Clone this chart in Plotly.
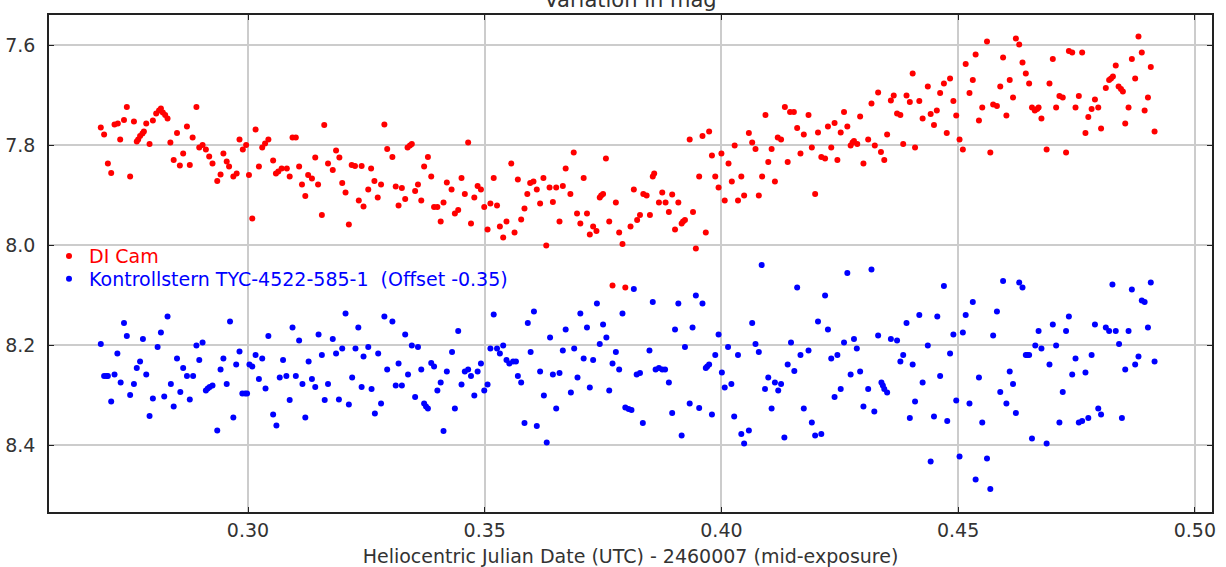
import plotly.graph_objects as go

# DI Cam (red)
di_hjd = [
    0.2689,0.2696,0.2704,0.2711,0.2718,0.2725,0.2730,0.2738,0.2744,0.2751,
    0.2759,0.2765,0.2768,0.2772,0.2777,0.2780,0.2785,0.2792,0.2799,0.2806,
    0.2812,0.2816,0.2820,0.2825,0.2830,0.2836,0.2843,0.2850,0.2856,0.2863,
    0.2871,0.2877,0.2883,0.2891,0.2897,0.2904,0.2911,0.2918,0.2925,0.2935,
    0.2942,0.2948,0.2955,0.2960,0.2969,0.2976,0.2982,0.2989,0.2996,0.3002,
    0.3009,0.3016,0.3023,0.3030,0.3036,0.3043,0.3053,0.3059,0.3064,0.3071,
    0.3082,0.3088,0.3094,0.3101,0.3108,0.3114,0.3121,0.3127,0.3135,0.3142,
    0.3148,0.3156,0.3161,0.3169,0.3179,0.3186,0.3193,0.3199,0.3206,0.3213,
    0.3219,0.3226,0.3234,0.3240,0.3244,
    0.3254,0.3260,0.3267,0.3274,0.3281,0.3288,0.3294,0.3305,0.3312,0.3318,
    0.3325,0.3332,0.3337,0.3342,0.3346,0.3353,0.3359,0.3366,0.3372,0.3380,
    0.3387,0.3393,0.3400,0.3407,0.3413,0.3420,0.3430,0.3437,0.3444,0.3451,
    0.3458,0.3465,0.3471,0.3478,0.3485,0.3492,0.3499,0.3506,0.3512,0.3519,
    0.3526,0.3532,0.3539,0.3546,0.3556,0.3563,0.3570,0.3577,0.3584,0.3590,
    0.3596,0.3603,0.3610,0.3617,0.3624,0.3630,0.3637,0.3644,0.3651,0.3658,
    0.3665,0.3671,0.3681,0.3688,0.3695,0.3702,0.3709,0.3716,0.3722,0.3729,
    0.3736,0.3743,0.3746,0.3750,0.3756,0.3763,0.3770,0.3777,0.3784,0.3791,0.3797,
    0.3808,0.3815,0.3822,0.3828,0.3835,0.3842,0.3849,0.3855,0.3858,
    0.3868,0.3875,0.3882,0.3889,0.3896,0.3902,0.3909,0.3916,0.3919,0.3923,
    0.3933,0.3940,0.3946,0.3953,0.3960,0.3967,0.3974,0.3980,0.3987,0.3994,
    0.4000,0.4007,0.4015,0.4022,0.4028,0.4035,0.4042,0.4048,0.4058,0.4065,
    0.4072,0.4079,0.4086,0.4093,0.4099,0.4106,0.4113,0.4119,0.4126,0.4134,
    0.4140,0.4145,0.4153,0.4160,0.4167,0.4174,0.4184,0.4191,0.4198,0.4204,
    0.4211,0.4219,0.4225,0.4232,0.4239,0.4245,0.4252,0.4259,0.4266,0.4273,
    0.4277,0.4280,0.4287,0.4293,0.4300,0.4310,0.4317,0.4324,0.4331,0.4337,
    0.4344,0.4350,0.4358,0.4364,0.4371,0.4378,0.4384,0.4391,0.4398,0.4404,
    0.4409,
    0.4418,0.4425,0.4436,0.4442,0.4449,0.4455,0.4462,0.4470,0.4476,0.4483,
    0.4490,0.4496,0.4503,0.4510,0.4516,0.4524,0.4531,0.4537,0.4544,0.4551,
    0.4561,0.4568,0.4574,0.4582,0.4589,0.4595,0.4602,0.4609,0.4616,0.4622,
    0.4629,0.4636,0.4643,0.4650,0.4656,0.4662,0.4667,0.4670,0.4676,0.4687,
    0.4693,0.4700,0.4707,0.4714,0.4721,0.4728,0.4734,0.4741,0.4748,0.4755,
    0.4762,0.4769,0.4775,0.4782,0.4789,0.4796,0.4802,0.4812,0.4819,0.4823,
    0.4827,0.4833,0.4839,0.4844,0.4848,0.4853,0.4860,0.4867,0.4874,0.4881,
    0.4888,0.4894,0.4901,0.4907,0.4915,
]
di_mag = [
    7.765,7.779,7.837,7.856,7.759,7.757,7.789,7.750,7.724,7.863,
    7.753,7.793,7.789,7.782,7.777,7.773,7.757,7.798,7.751,7.737,
    7.731,7.727,7.735,7.740,7.747,7.795,7.830,7.776,7.841,7.817,
    7.763,7.840,7.785,7.724,7.805,7.800,7.809,7.823,7.837,7.872,
    7.859,7.817,7.833,7.843,7.863,7.857,7.789,7.809,7.800,7.860,
    7.947,7.769,7.843,7.805,7.797,7.789,7.831,7.857,7.853,7.847,
    7.847,7.863,7.785,7.785,7.843,7.879,7.902,7.860,7.867,7.825,
    7.879,7.940,7.760,7.837,7.850,7.811,7.825,7.876,7.895,7.959,
    7.840,7.842,7.911,7.842,7.923,
    7.889,7.847,7.872,7.905,7.879,7.759,7.808,7.824,7.883,7.921,
    7.886,7.908,7.805,7.801,7.798,7.892,7.879,7.911,7.843,7.824,
    7.863,7.924,7.924,7.953,7.915,7.875,7.889,7.937,7.930,7.866,
    7.898,7.795,7.957,7.905,7.882,7.889,7.924,7.969,7.917,7.866,
    7.921,7.963,7.985,7.953,7.837,7.975,7.869,7.949,7.927,7.898,
    7.876,7.873,7.889,7.917,7.866,8.001,7.885,7.914,7.885,7.953,
    7.882,7.847,7.898,7.815,7.937,7.957,7.866,7.937,7.979,7.963,
    7.972,7.905,7.901,7.898,7.827,7.953,8.081,7.915,7.975,7.998,8.085,
    7.963,7.889,7.950,7.940,7.898,7.901,7.940,7.863,7.857,
    7.915,7.895,7.915,7.934,7.899,7.969,7.915,7.957,7.953,7.950,
    7.789,7.934,8.007,7.863,7.782,7.975,7.773,7.821,7.863,7.885,
    7.817,7.911,7.837,7.873,7.801,7.911,7.863,7.901,7.776,7.795,
    7.808,7.901,7.863,7.740,7.834,7.808,7.873,7.785,7.789,7.724,
    7.834,7.734,7.734,7.766,7.817,7.779,7.740,7.805,7.898,7.775,
    7.824,7.827,7.763,7.805,7.756,7.830,7.775,7.734,7.763,7.801,
    7.795,7.792,7.798,7.743,7.837,7.789,7.717,7.801,7.695,7.814,
    7.830,7.779,7.711,7.701,7.737,7.740,7.798,7.701,7.714,7.657,
    7.805,
    7.712,7.747,7.683,7.738,7.760,7.731,7.696,7.677,7.776,7.667,
    7.712,7.741,7.789,7.809,7.638,7.696,7.670,7.619,7.751,7.725,
    7.593,7.815,7.719,7.722,7.683,7.625,7.741,7.670,7.705,7.587,
    7.599,7.635,7.657,7.677,7.725,7.731,7.728,7.725,7.747,7.809,
    7.677,7.628,7.725,7.702,7.705,7.815,7.612,7.615,7.725,7.702,
    7.615,7.776,7.744,7.728,7.709,7.725,7.767,7.686,7.670,7.667,
    7.663,7.641,7.683,7.688,7.693,7.757,7.725,7.628,7.667,7.583,
    7.615,7.731,7.705,7.644,7.773,
]

# Check star TYC-4522-585-1 (blue), plotted with offset -0.35
chk_hjd = [
    0.2689,0.2696,0.2701,0.2704,0.2711,0.2718,0.2724,0.2731,0.2738,0.2744,
    0.2751,0.2759,0.2765,0.2772,0.2778,0.2785,0.2792,0.2799,0.2809,0.2816,
    0.2823,0.2830,0.2837,0.2843,0.2850,0.2857,0.2863,0.2871,0.2877,0.2884,
    0.2891,0.2897,0.2904,0.2911,0.2915,0.2919,0.2925,0.2935,0.2942,0.2948,
    0.2955,0.2962,0.2969,0.2975,0.2982,0.2988,0.2994,0.2998,0.3003,0.3009,
    0.3016,0.3023,0.3030,0.3037,0.3043,0.3053,0.3060,0.3067,0.3074,0.3081,
    0.3088,0.3094,0.3101,0.3108,0.3115,0.3121,0.3128,0.3135,0.3142,0.3149,
    0.3156,0.3162,0.3169,0.3179,0.3186,0.3192,0.3199,0.3206,0.3213,0.3220,
    0.3227,0.3233,0.3240,0.3244,
    0.3254,0.3261,0.3268,0.3275,0.3281,0.3288,0.3294,0.3305,0.3312,0.3318,
    0.3325,0.3332,0.3338,0.3346,0.3353,0.3359,0.3366,0.3372,0.3376,0.3380,
    0.3387,0.3393,0.3400,0.3407,0.3413,0.3420,0.3431,0.3437,0.3444,0.3451,
    0.3458,0.3465,0.3471,0.3478,0.3485,0.3492,0.3499,0.3506,0.3512,0.3519,
    0.3526,0.3532,0.3539,0.3546,0.3552,0.3560,0.3566,0.3570,0.3577,0.3584,
    0.3591,0.3597,0.3604,0.3610,0.3617,0.3625,0.3631,0.3638,0.3644,0.3651,
    0.3658,0.3665,0.3671,0.3682,0.3689,0.3696,0.3702,0.3709,0.3716,0.3722,
    0.3729,0.3737,0.3743,0.3750,0.3757,0.3763,0.3770,0.3777,0.3784,0.3791,
    0.3797,0.3804,0.3810,0.3815,0.3821,0.3828,0.3834,
    0.3848,0.3855,0.3861,0.3868,0.3875,0.3881,0.3889,0.3896,0.3902,0.3909,
    0.3916,0.3923,0.3933,0.3939,0.3946,0.3953,0.3960,0.3967,0.3970,0.3974,
    0.3980,0.3987,0.3994,0.4001,0.4007,0.4014,0.4021,0.4027,0.4035,0.4042,
    0.4048,0.4058,0.4065,0.4072,0.4079,0.4085,0.4092,0.4099,0.4106,0.4113,
    0.4120,0.4126,0.4133,0.4140,0.4147,0.4154,0.4160,0.4167,0.4174,0.4184,
    0.4191,0.4198,0.4204,0.4211,0.4219,0.4225,0.4232,0.4239,0.4245,0.4252,
    0.4259,0.4266,0.4273,0.4280,0.4286,0.4293,0.4300,0.4310,0.4317,0.4323,
    0.4331,0.4338,0.4341,0.4344,0.4350,0.4358,0.4371,0.4378,0.4384,0.4391,
    0.4398,0.4404,0.4409,
    0.4418,0.4425,0.4436,0.4442,0.4449,0.4456,0.4462,0.4470,0.4477,0.4483,
    0.4490,0.4496,0.4503,0.4510,0.4516,0.4524,0.4531,0.4537,0.4544,0.4551,
    0.4561,0.4568,0.4574,0.4582,0.4589,0.4595,0.4602,0.4609,0.4616,0.4622,
    0.4629,0.4636,0.4643,0.4646,0.4650,0.4656,0.4663,0.4670,0.4676,0.4687,
    0.4693,0.4700,0.4707,0.4714,0.4721,0.4728,0.4734,0.4741,0.4748,0.4755,
    0.4762,0.4769,0.4775,0.4782,0.4789,0.4796,0.4802,0.4812,0.4819,0.4826,
    0.4833,0.4840,0.4846,0.4853,0.4860,0.4867,0.4874,0.4881,0.4888,0.4894,
    0.4901,0.4907,0.4915,
]
chk_mag = [
    8.198,8.262,8.262,8.262,8.313,8.259,8.217,8.275,8.156,8.182,
    8.300,8.278,8.246,8.233,8.188,8.259,8.342,8.307,8.204,8.175,
    8.303,8.143,8.278,8.323,8.227,8.294,8.246,8.262,8.309,8.262,
    8.201,8.230,8.195,8.291,8.287,8.284,8.281,8.371,8.249,8.227,
    8.278,8.153,8.345,8.239,8.213,8.297,8.297,8.297,8.239,8.243,
    8.220,8.268,8.227,8.287,8.182,8.339,8.361,8.265,8.230,8.262,
    8.310,8.165,8.262,8.191,8.278,8.345,8.233,8.268,8.284,8.179,
    8.220,8.310,8.278,8.188,8.217,8.309,8.207,8.137,8.319,8.265,
    8.207,8.165,8.284,8.223,
    8.204,8.288,8.337,8.217,8.317,8.143,8.249,8.153,8.281,8.237,
    8.281,8.179,8.259,8.201,8.304,8.204,8.249,8.317,8.323,8.327,
    8.236,8.243,8.291,8.275,8.372,8.253,8.214,8.327,8.172,8.279,
    8.253,8.249,8.262,8.301,8.253,8.237,8.291,8.279,8.207,8.139,
    8.207,8.217,8.201,8.230,8.237,8.233,8.233,8.262,8.275,8.356,
    8.156,8.214,8.133,8.362,8.253,8.301,8.395,8.185,8.259,8.327,
    8.256,8.211,8.169,8.295,8.207,8.265,8.137,8.227,8.165,8.285,
    8.230,8.117,8.198,8.159,8.185,8.291,8.237,8.214,8.249,8.137,
    8.325,8.328,8.330,8.088,8.259,8.256,8.356,
    8.211,8.114,8.249,8.246,8.249,8.249,8.275,8.336,8.169,8.117,
    8.381,8.204,8.317,8.165,8.101,8.326,8.117,8.246,8.243,8.239,
    8.339,8.220,8.179,8.255,8.285,8.204,8.278,8.343,8.220,8.378,
    8.397,8.371,8.156,8.198,8.214,8.040,8.288,8.265,8.327,8.275,
    8.291,8.278,8.385,8.239,8.195,8.252,8.085,8.220,8.327,8.211,
    8.355,8.381,8.153,8.378,8.101,8.169,8.227,8.304,8.220,8.288,
    8.195,8.056,8.259,8.188,8.207,8.253,8.323,8.288,8.049,8.333,
    8.181,8.275,8.281,8.288,8.295,8.188,8.191,8.233,8.220,8.156,
    8.346,8.239,8.313,
    8.140,8.275,8.201,8.433,8.343,8.143,8.262,8.082,8.352,8.217,
    8.179,8.311,8.423,8.175,8.140,8.317,8.114,8.469,8.265,8.355,
    8.427,8.488,8.181,8.133,8.294,8.072,8.317,8.253,8.278,8.336,
    8.075,8.085,8.220,8.220,8.220,8.387,8.201,8.172,8.207,8.397,
    8.239,8.159,8.201,8.355,8.294,8.172,8.143,8.259,8.227,8.355,
    8.352,8.255,8.346,8.220,8.159,8.327,8.339,8.165,8.172,8.079,
    8.172,8.198,8.346,8.249,8.172,8.089,8.239,8.223,8.111,8.114,
    8.165,8.075,8.233,
]

x_ticks = [0.30, 0.35, 0.40, 0.45, 0.50]
x_tick_labels = ["0.30", "0.35", "0.40", "0.45", "0.50"]
y_ticks = [7.6, 7.8, 8.0, 8.2, 8.4]
y_tick_labels = ["7.6", "7.8", "8.0", "8.2", "8.4"]

RED = "#ff0000"
BLUE = "#0000ff"
FONT = "DejaVu Sans"
FS = 19

fig = go.Figure()
fig.add_trace(go.Scatter(
    x=di_hjd, y=di_mag, mode="markers",
    name='<span style="color:#ff0000">DI Cam</span>',
    marker=dict(color=RED, size=6, line=dict(width=0)),
    legend="legend",
))
fig.add_trace(go.Scatter(
    x=chk_hjd, y=chk_mag, mode="markers",
    name='<span style="color:#0000ff">Kontrollstern TYC-4522-585-1&nbsp;&nbsp;(Offset -0.35)</span>',
    marker=dict(color=BLUE, size=6, line=dict(width=0)),
    legend="legend2",
))

axis_common = dict(
    showgrid=True, gridcolor="#cccccc", gridwidth=1.5,
    showline=True, linecolor="#222222", linewidth=1.5, mirror="ticks",
    ticks="inside", ticklen=5, tickwidth=1.2, tickcolor="#222222",
    zeroline=False, automargin=False,
    tickfont=dict(family=FONT, size=FS, color="#333333"),
)

legend_common = dict(
    x=0.0, xanchor="left", yanchor="top",
    bgcolor="rgba(0,0,0,0)", borderwidth=0,
    font=dict(family=FONT, size=FS), itemwidth=30,
)

fig.update_layout(
    width=1226, height=567,
    margin=dict(l=49, r=14, t=15, b=55),
    paper_bgcolor="white", plot_bgcolor="white",
    font=dict(family=FONT, color="#333333"),
    title=dict(text="Variation in mag", x=0.5, xref="paper",
               y=1.0, yref="container", yanchor="middle",
               font=dict(family=FONT, size=21, color="#333333")),
    xaxis=dict(range=[0.25796, 0.50363], tickvals=x_ticks, ticktext=x_tick_labels,
               title=dict(text="Heliocentric Julian Date (UTC) - 2460007 (mid-exposure)",
                          font=dict(family=FONT, size=FS, color="#333333"), standoff=13),
               **axis_common),
    yaxis=dict(range=[8.534, 7.54], tickvals=y_ticks, ticktext=y_tick_labels,
               ticklabelstandoff=8, **axis_common),
    legend=dict(y=0.553, **legend_common),
    legend2=dict(y=0.507, **legend_common),
    showlegend=True,
)

fig.write_html("out.html", config={"displayModeBar": False},
               post_script="document.body.style.margin='0';document.body.style.padding='0';")
